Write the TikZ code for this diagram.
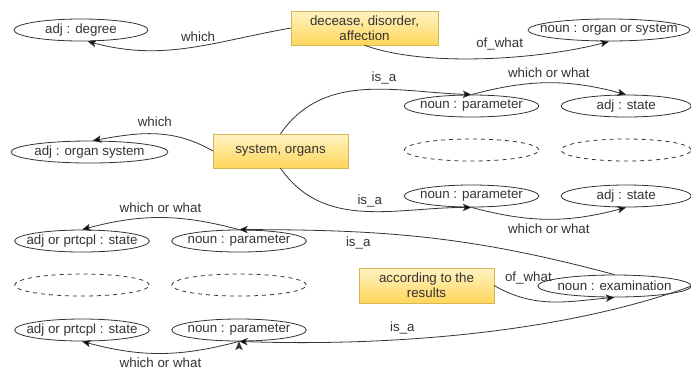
\documentclass[tikz,border=0pt]{standalone}
\usepackage{fontspec}
\setmainfont{Liberation Sans}
\usetikzlibrary{arrows, arrows.meta, positioning, shapes.geometric}

\definecolor{boxtop}{HTML}{FFF3C4}
\definecolor{boxbot}{HTML}{FFD65A}
\definecolor{boxline}{HTML}{D6B656}
\definecolor{ink}{HTML}{333333}

\tikzset{
    concept/.style={rectangle, draw=boxline, top color=boxtop, bottom color=boxbot, minimum width=101pt, minimum height=25.5pt, align=center, inner sep=1pt},
    word/.style={ellipse, draw=ink, line width=0.6pt, minimum width=101pt, minimum height=16.5pt, inner xsep=-20pt, inner ysep=0pt},
    blank/.style={word, dashed},
}

\begin{document}
\begin{tikzpicture}[x=0.75pt, y=-0.75pt, >={Stealth[length=6.5pt, width=5.5pt, inset=1.5pt]}, on grid, font=\fontsize{10}{11.5}\selectfont, text=ink]
        \useasboundingbox (0,0) rectangle (691,376);

        \node[concept, minimum width=110pt] (dis)   at (364.5,28)                   {decease, disorder,\\affection};
        \node[word, minimum width=100.5pt]  (deg)   at (81,30)                      {adj : degree};
        \node[word, minimum width=121.5pt]  (org)   at (609,30)                     {noun : organ or system};

        \node[concept]                      (sys)   at (280.5,151)                  {system, organs};
        \node[word, minimum width=117.75pt] (osys)  at (89.5,152)                   {adj : organ system};
        \node[word]                         (par1)  at (471.5,106)                  {noun : parameter};
        \node[word, minimum width=97.5pt]   (st1)   [right=116pt of par1]           {adj : state};
        \node[blank]                        (gap1)  [below=33pt of par1]            {};
        \node[blank, minimum width=97.5pt]  (gap2)  [below=33pt of st1]             {};
        \node[word]                         (par2)  [below=34.5pt of gap1]          {noun : parameter};
        \node[word, minimum width=97.5pt]   (st2)   [below=34.5pt of gap2]          {adj : state};

        \node[word]                         (prt1)  at (82,241)                     {adj or prtcpl : state};
        \node[word]                         (parL1) [right=117.75pt of prt1]        {noun : parameter};
        \node[blank]                        (gap3)  [below=33pt of prt1]            {};
        \node[blank]                        (gap4)  [below=33pt of parL1]           {};
        \node[word]                         (prt2)  [below=33.75pt of gap3]         {adj or prtcpl : state};
        \node[word]                         (parL2) [below=33.75pt of gap4]         {noun : parameter};

        \node[concept, minimum height=26pt] (acc)   at (426.5,285.5)                {according to the\\results};
        \node[word, minimum width=115pt]    (exam)  at (614.5,286)                  {noun : examination};

        \path[->, draw=ink, line width=0.6pt]
        (dis.west) edge [out=190, in=-15] node [above, pos=0.45] {which} (deg.-60)
        (dis.south) edge [out=-20, in=195, looseness=0.7] node [above=2pt, pos=0.55] {of\_what} (org.south)
        (sys.north) edge [out=55, in=178] node [above, pos=0.6] {is\_a} (par1.north)
        (par1.north) edge [out=15, in=165] node [above] {which or what} (st1.north)
        (sys.west) edge [out=150, in=10] node [above=2pt] {which} (osys.75)
        (sys.south) edge [out=-55, in=180] node [above, pos=0.53] {is\_a} (par2.south)
        (par2.south) edge [out=-15, in=195] node [below] {which or what} (st2.south)
        (exam.north) edge [out=165, in=0] node [below, pos=0.7] {is\_a} (parL1.north)
        (parL1.north) edge [out=165, in=15] node [above] {which or what} (prt1.north)
        (acc.east) edge [out=-30, in=185] node [above right, pos=0.05] {of\_what} (exam.south)
        (exam.east) edge [out=-160, in=-2, looseness=0.8] node [above, pos=0.64] {is\_a} (parL2.south)
        (parL2.south) edge [out=195, in=-15] node [below] {which or what} (prt2.south)
        ;
    \end{tikzpicture}
\end{document}
